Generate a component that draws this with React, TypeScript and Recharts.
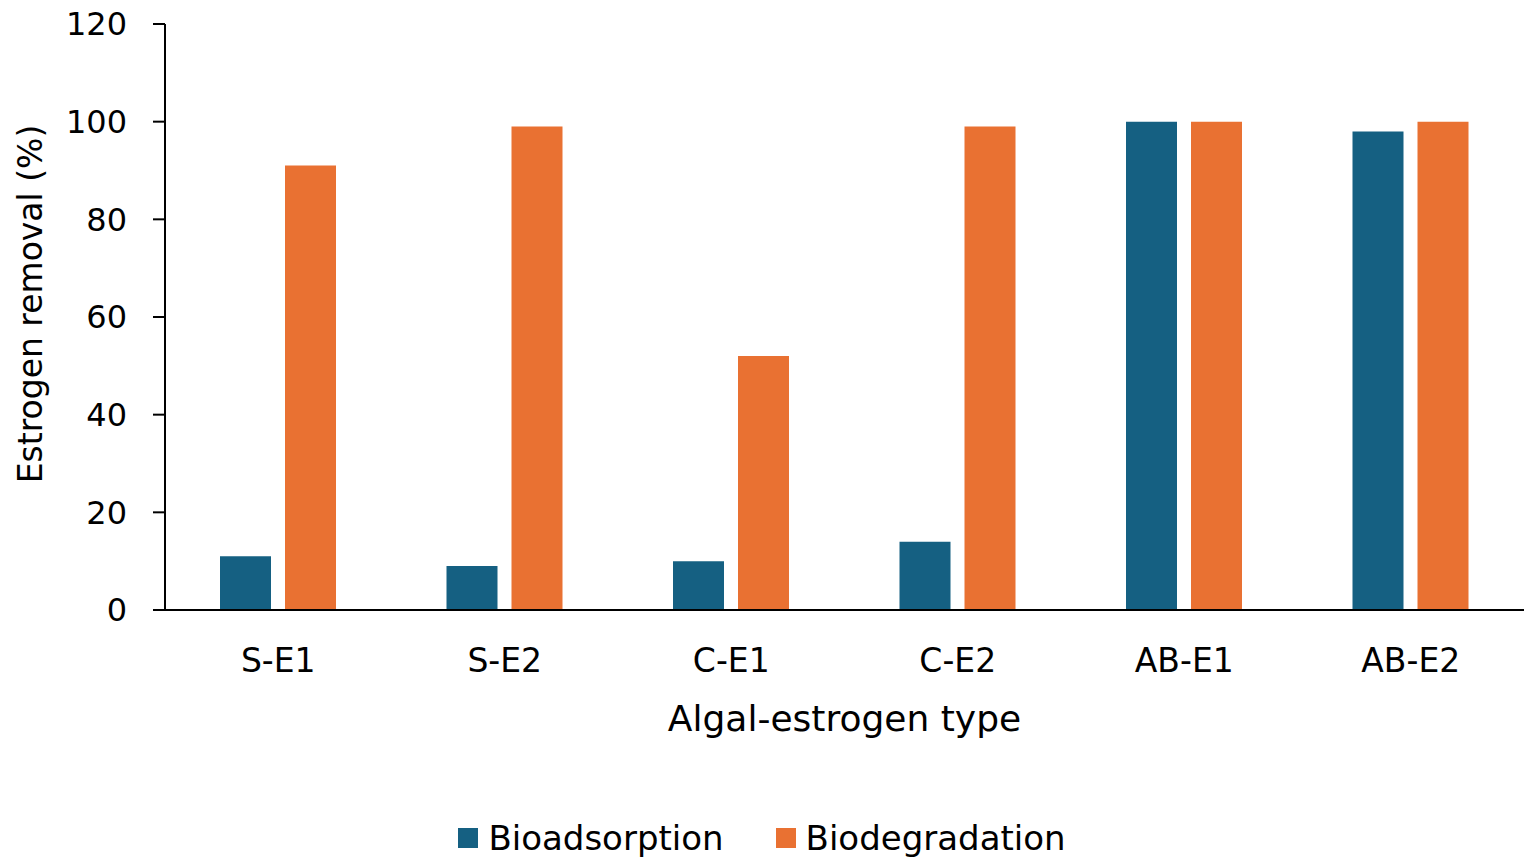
import React from 'react';
import { BarChart, Bar, XAxis, YAxis, Legend } from 'recharts';

const categories = ['S-E1', 'S-E2', 'C-E1', 'C-E2', 'AB-E1', 'AB-E2'];
const bioadsorption = [11, 9, 10, 14, 100, 98];
const biodegradation = [91, 99, 52, 99, 100, 100];
const yTicks = [0, 20, 40, 60, 80, 100, 120];

const BLUE = '#156082';
const ORANGE = '#E97132';
const FONT = '"DejaVu Sans", "Liberation Sans", sans-serif';

const data = categories.map((name, i) => ({
  name,
  bioadsorption: bioadsorption[i],
  biodegradation: biodegradation[i],
}));

const legendItems = [
  { label: 'Bioadsorption', color: BLUE },
  { label: 'Biodegradation', color: ORANGE },
];

function LegendContent() {
  return (
    <div style={{ height: 40, display: 'flex', justifyContent: 'center', alignItems: 'center', gap: 52, fontFamily: FONT, fontSize: 34, color: '#000' }}>
      {legendItems.map((item) => (
        <div key={item.label} style={{ display: 'flex', alignItems: 'center' }}>
          <span style={{ width: 20, height: 20, background: item.color, marginRight: 10, display: 'inline-block' }} />
          <span>{item.label}</span>
        </div>
      ))}
    </div>
  );
}

function YTitle(props: any) {
  const { viewBox } = props;
  const x = viewBox.x + 30;
  const y = viewBox.y + viewBox.height / 2 - 13;
  return (
    <text x={x} y={y} transform={`rotate(-90, ${x}, ${y})`} textAnchor="middle" dominantBaseline="central" fontFamily={FONT} fontSize={33} fill="#000">
      Estrogen removal (%)
    </text>
  );
}

function XTitle(props: any) {
  const { viewBox } = props;
  const x = viewBox.x + viewBox.width / 2;
  const y = viewBox.y + 121;
  return (
    <text x={x} y={y} textAnchor="middle" fontFamily={FONT} fontSize={36} fill="#000">
      Algal-estrogen type
    </text>
  );
}

export default function App() {
  return (
    <div style={{ position: 'absolute', left: 0, top: 0, width: 1536, height: 865, background: '#fff' }}>
      <BarChart
        width={1536}
        height={865}
        data={data}
        margin={{ top: 24, right: 12, left: 0, bottom: 7 }}
        barCategoryGap={55}
        barGap={14}
      >
        <XAxis
          dataKey="name"
          height={208}
          tickLine={false}
          tickSize={0}
          tickMargin={39}
          axisLine={{ stroke: '#000', strokeWidth: 2 }}
          tick={{ fill: '#000', fontSize: 33, fontFamily: FONT }}
          label={<XTitle />}
        />
        <YAxis
          width={165}
          domain={[0, 120]}
          ticks={yTicks}
          interval={0}
          tickSize={12}
          tickMargin={26}
          axisLine={{ stroke: '#000', strokeWidth: 2 }}
          tickLine={{ stroke: '#000', strokeWidth: 2 }}
          tick={{ fill: '#000', fontSize: 32, fontFamily: FONT }}
          label={<YTitle />}
        />
        <Legend verticalAlign="bottom" content={<LegendContent />} />
        <Bar dataKey="bioadsorption" name="Bioadsorption" fill={BLUE} isAnimationActive={false} />
        <Bar dataKey="biodegradation" name="Biodegradation" fill={ORANGE} isAnimationActive={false} />
      </BarChart>
    </div>
  );
}
